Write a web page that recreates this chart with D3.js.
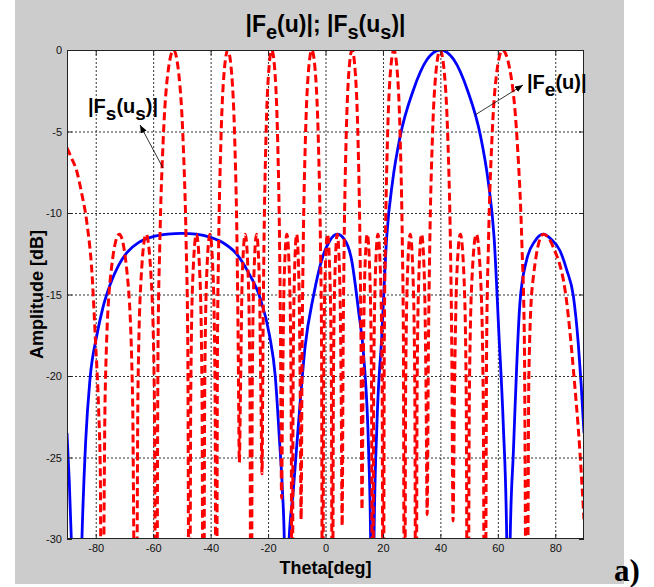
<!DOCTYPE html>
<html lang="en">
<head>
<meta charset="UTF-8">
<title>|Fe(u)|; |Fs(us)|</title>
<script src="https://d3js.org/d3.v7.min.js"></script>
<style>
    body {
        margin: 0;
        background: #ffffff;
        font-family: "Liberation Sans", Arial, sans-serif;
    }

    svg {
        display: block;
    }

    .tick text {
        font-family: "Liberation Sans", Arial, sans-serif;
        font-size: 11px;
        fill: #111;
    }

    .tick line {
        stroke: #222;
    }
</style>
</head>
<body>
<svg id="chart" width="654" height="587"></svg>
<script>
    // axis ticks
    const xTicks = [-80, -60, -40, -20, 0, 20, 40, 60, 80];
    const yTicks = [0, -5, -10, -15, -20, -25, -30];

    // |Fe(u)| : [theta deg, amplitude dB] (blue, solid)
    const feCurve = [
        [-90, -23.5], [-89.2, -26.5], [-88.4, -30.5], [-87.6, -36], [-86.6, -45], [-85.6, -36], [-84.8, -30],
        [-83.5, -24], [-82, -20.2], [-79.6, -17.5], [-77.5, -15.8], [-75, -14.4], [-72, -13.2], [-69, -12.4],
        [-65, -11.8], [-60, -11.45], [-55, -11.3], [-50, -11.25], [-45, -11.3], [-40, -11.5], [-35, -11.9],
        [-31, -12.5], [-27, -13.6], [-23, -15.1], [-19.5, -17.5], [-17.5, -20], [-16, -24], [-15, -27],
        [-14.3, -30.5], [-13.6, -45], [-12.8, -30.5], [-11.2, -27], [-9, -22], [-7.1, -18.2], [-4.2, -15.1],
        [-1, -12.7], [1.5, -11.7], [4, -11.3], [6.5, -11.6], [9, -12.8], [11.5, -16], [13.4, -19], [15, -24.5],
        [15.7, -30], [16.3, -45], [16.9, -30], [17.9, -23], [19.6, -17.5], [21.3, -11.5], [23.4, -8],
        [26, -5.3], [30.6, -2.45], [35.3, -0.6], [40, 0], [44.7, -0.6], [49.4, -2.45], [54, -5.3], [56.6, -8],
        [58.7, -11.5], [60.4, -17.5], [61.9, -23], [63.1, -30], [63.7, -45], [64.3, -30],
        [65.4, -24.7], [67.7, -15.5], [70, -12.9], [73, -11.7], [75.8, -11.3], [78.5, -11.6], [81.6, -12.3],
        [84, -13.5], [86.3, -15.1], [88, -18], [89, -20.5], [90, -23.5]
    ];

    // |Fs(us)| : [theta deg, amplitude dB] (red, dashed)
    const fsCurve = [
        [-90, -6.0], [-88.5, -6.6], [-86.5, -7.5], [-85, -8.7], [-83, -10.7], [-81.3, -13.7], [-80.1, -17.8], [-79, -22], [-78.4, -26], [-77.9, -45],
        [-76.7, -21], [-74.9, -14], [-71.8, -11.3], [-68.9, -14], [-67.2, -21], [-66.0, -45],
        [-65.3, -21], [-64.2, -14], [-62.45, -11.3], [-60.7, -14], [-59.6, -21], [-58.9, -45],
        [-58.3, -18], [-57.7, -12], [-56.5, -5.5], [-55.0, -1.6], [-52.9, 0], [-51.0, -1.6], [-49.6, -5.5], [-48.5, -12], [-47.95, -18], [-47.4, -45],
        [-46.9, -21], [-46.2, -14], [-44.95, -11.3], [-43.7, -14], [-43.0, -21], [-42.5, -45],
        [-42.05, -21], [-41.4, -14], [-40.25, -11.3], [-39.1, -14], [-38.45, -21], [-38.0, -45],
        [-37.6, -18], [-37.2, -12], [-36.4, -5.5], [-35.4, -1.6], [-34.0, 0], [-32.6, -1.6], [-31.6, -5.5], [-30.8, -12], [-30.4, -18], [-30.0, -25.3],
        [-29.6, -21], [-29.0, -14], [-27.95, -11.3], [-26.9, -14], [-26.3, -21], [-25.9, -45],
        [-25.5, -21], [-24.95, -14], [-24.0, -11.3], [-23.05, -14], [-22.5, -21], [-22.1, -26],
        [-21.76, -18], [-21.42, -12], [-20.74, -5.5], [-19.89, -1.6], [-18.7, 0], [-17.51, -1.6], [-16.66, -5.5], [-15.98, -12], [-15.64, -18], [-15.3, -27.5],
        [-14.93, -21], [-14.38, -14], [-13.45, -11.3], [-12.53, -14], [-11.97, -21], [-11.6, -45],
        [-11.29, -21], [-10.83, -14], [-10.05, -11.3], [-9.28, -14], [-8.81, -21], [-8.5, -28.8],
        [-8.13, -18], [-7.75, -12], [-7.0, -5.5], [-6.06, -1.6], [-4.75, 0], [-3.44, -1.6], [-2.5, -5.5], [-1.75, -12], [-1.38, -18], [-1.0, -45],
        [-0.66, -21], [-0.15, -14], [0.7, -11.3], [1.55, -14], [2.06, -21], [2.4, -45],
        [2.74, -21], [3.25, -14], [4.1, -11.3], [4.95, -14], [5.46, -21], [5.8, -29.2],
        [6.15, -18], [6.49, -12], [7.18, -5.5], [8.04, -1.6], [9.25, 0], [10.46, -1.6], [11.32, -5.5], [12.01, -12], [12.36, -18], [12.7, -28.2],
        [13.07, -21], [13.63, -14], [14.55, -11.3], [15.48, -14], [16.03, -21], [16.4, -45],
        [16.77, -21], [17.33, -14], [18.25, -11.3], [19.18, -14], [19.73, -21], [20.1, -45],
        [20.47, -18], [20.84, -12], [21.58, -5.5], [22.5, -1.6], [23.8, 0], [25.1, -1.6], [26.02, -5.5], [26.76, -12], [27.13, -18], [27.5, -45],
        [27.9, -21], [28.5, -14], [29.5, -11.3], [30.5, -14], [31.1, -21], [31.5, -45],
        [31.89, -21], [32.48, -14], [33.45, -11.3], [34.43, -14], [35.01, -21], [35.4, -28.5],
        [35.85, -18], [36.3, -12], [37.2, -5.5], [38.33, -1.6], [39.9, 0], [41.48, -1.6], [42.6, -5.5], [43.5, -12], [43.95, -18], [44.4, -28.9],
        [44.91, -21], [45.68, -14], [46.95, -11.3], [48.23, -14], [48.99, -21], [49.5, -45],
        [50.1, -21], [51.0, -14], [52.5, -11.3], [54.0, -14], [54.9, -21], [55.5, -45],
        [56.11, -18], [56.72, -12], [57.94, -5.5], [59.47, -1.6], [61.6, 0], [64.58, -1.6], [66.7, -5.5], [68.4, -12], [69.25, -18], [70.1, -45],
        [70.8, -20], [72.0, -14.5], [75.8, -11.3], [79.3, -12.1], [84.0, -15.5], [86.3, -19.6], [88.6, -24.7], [90, -28.8]
    ];

    const svg = d3.select("#chart");
    const box = { left: 67, right: 584, top: 50, bottom: 539 };

    // figure background
    svg.append("rect")
        .attr("x", 15).attr("y", 0)
        .attr("width", 609).attr("height", 584)
        .attr("fill", "#cccccc");

    svg.append("rect")
        .attr("x", box.left).attr("y", box.top)
        .attr("width", box.right - box.left).attr("height", box.bottom - box.top)
        .attr("fill", "#ffffff");

    const x = d3.scaleLinear().domain([-90, 90]).range([box.left, box.right]);
    const y = d3.scaleLinear().domain([-30, 0]).range([box.bottom, box.top]);

    // dotted grid
    const grid = svg.append("g")
        .attr("stroke", "#333")
        .attr("stroke-width", 1)
        .attr("stroke-dasharray", "2,2");

    grid.selectAll(".vgrid")
        .data(xTicks)
        .join("line")
        .attr("x1", d => x(d) + 0.5).attr("x2", d => x(d) + 0.5)
        .attr("y1", box.top).attr("y2", box.bottom);

    grid.selectAll(".hgrid")
        .data(yTicks.filter(d => d !== 0 && d !== -30))
        .join("line")
        .attr("y1", d => y(d) + 0.5).attr("y2", d => y(d) + 0.5)
        .attr("x1", box.left).attr("x2", box.right);

    // curves, clipped to the axes box
    svg.append("clipPath").attr("id", "clip")
        .append("rect")
        .attr("x", box.left).attr("y", box.top)
        .attr("width", box.right - box.left).attr("height", box.bottom - box.top);

    const line = d3.line()
        .x(d => x(d[0]))
        .y(d => y(d[1]))
        .curve(d3.curveMonotoneX);

    const curves = svg.append("g").attr("clip-path", "url(#clip)");

    curves.append("path")
        .datum(feCurve)
        .attr("d", line)
        .attr("fill", "none")
        .attr("stroke", "#0000ff")
        .attr("stroke-width", 2.8);

    curves.append("path")
        .datum(fsCurve)
        .attr("d", line)
        .attr("fill", "none")
        .attr("stroke", "#ff0000")
        .attr("stroke-width", 3)
        .attr("stroke-dasharray", "8,4");

    // axes (ticks inside, like matlab)
    const fmt = d => String(d);

    svg.append("g")
        .attr("transform", `translate(0,${box.bottom})`)
        .call(d3.axisBottom(x).tickValues(xTicks).tickFormat(fmt).tickSizeInner(-5).tickSizeOuter(0).tickPadding(5))
        .call(g => g.select(".domain").remove());

    svg.append("g")
        .attr("transform", `translate(0,${box.top})`)
        .call(d3.axisTop(x).tickValues(xTicks).tickFormat("").tickSizeInner(-5).tickSizeOuter(0))
        .call(g => g.select(".domain").remove());

    svg.append("g")
        .attr("transform", `translate(${box.left},0)`)
        .call(d3.axisLeft(y).tickValues(yTicks).tickFormat(fmt).tickSizeInner(-5).tickSizeOuter(0).tickPadding(5))
        .call(g => g.select(".domain").remove());

    svg.append("g")
        .attr("transform", `translate(${box.right},0)`)
        .call(d3.axisRight(y).tickValues(yTicks).tickFormat("").tickSizeInner(-5).tickSizeOuter(0))
        .call(g => g.select(".domain").remove());

    // box
    svg.append("rect")
        .attr("x", box.left + 0.5).attr("y", box.top + 0.5)
        .attr("width", box.right - box.left - 1).attr("height", box.bottom - box.top - 1)
        .attr("fill", "none")
        .attr("stroke", "#222")
        .attr("stroke-width", 1);

    // text with subscripts
    function richText(parent, parts, size, subSize, shift) {
        const t = parent.append("text")
            .attr("font-family", "'Liberation Sans', Arial, sans-serif")
            .attr("font-weight", "bold")
            .attr("fill", "#000");
        let down = false;
        parts.forEach(([str, sub]) => {
            const sp = t.append("tspan").text(str).attr("font-size", sub ? subSize : size);
            if (sub && !down) { sp.attr("dy", shift); down = true; }
            else if (!sub && down) { sp.attr("dy", -shift); down = false; }
        });
        return t;
    }

    richText(svg, [["|F", 0], ["e", 1], ["(u)|; |F", 0], ["s", 1], ["(u", 0], ["s", 1], [")|", 0]], 23, 20, 7)
        .attr("x", (box.left + box.right) / 2).attr("y", 32)
        .attr("text-anchor", "middle");

    svg.append("text")
        .attr("x", (box.left + box.right) / 2).attr("y", 574)
        .attr("text-anchor", "middle")
        .attr("font-weight", "bold")
        .attr("font-size", 18)
        .text("Theta[deg]");

    svg.append("text")
        .attr("transform", `translate(43,${(box.top + box.bottom) / 2}) rotate(-90)`)
        .attr("text-anchor", "middle")
        .attr("font-weight", "bold")
        .attr("font-size", 18)
        .text("Amplitude [dB]");

    svg.append("text")
        .attr("x", 614).attr("y", 581)
        .attr("font-family", "'Liberation Serif', 'Times New Roman', serif")
        .attr("font-weight", "bold")
        .attr("font-size", 31)
        .text("a)");

    // annotations with arrows
    svg.append("defs").append("marker")
        .attr("id", "head")
        .attr("viewBox", "0 0 10 10")
        .attr("refX", 10).attr("refY", 5)
        .attr("markerWidth", 8).attr("markerHeight", 8)
        .attr("markerUnits", "userSpaceOnUse")
        .attr("orient", "auto")
        .append("path")
        .attr("d", "M0,1 L10,5 L0,9 Z")
        .attr("fill", "#000");

    svg.append("line")
        .attr("x1", 163).attr("y1", 168).attr("x2", 140).attr("y2", 125)
        .attr("stroke", "#000").attr("stroke-width", 0.8)
        .attr("marker-end", "url(#head)");

    svg.append("line")
        .attr("x1", 475).attr("y1", 115).attr("x2", 523).attr("y2", 85)
        .attr("stroke", "#000").attr("stroke-width", 0.8)
        .attr("marker-end", "url(#head)");

    richText(svg, [["|F", 0], ["s", 1], ["(u", 0], ["s", 1], [")|", 0]], 20, 19, 7)
        .attr("x", 88).attr("y", 113);

    richText(svg, [["|F", 0], ["e", 1], ["(u)|", 0]], 20, 19, 7)
        .attr("x", 527).attr("y", 89);
</script>
</body>
</html>
